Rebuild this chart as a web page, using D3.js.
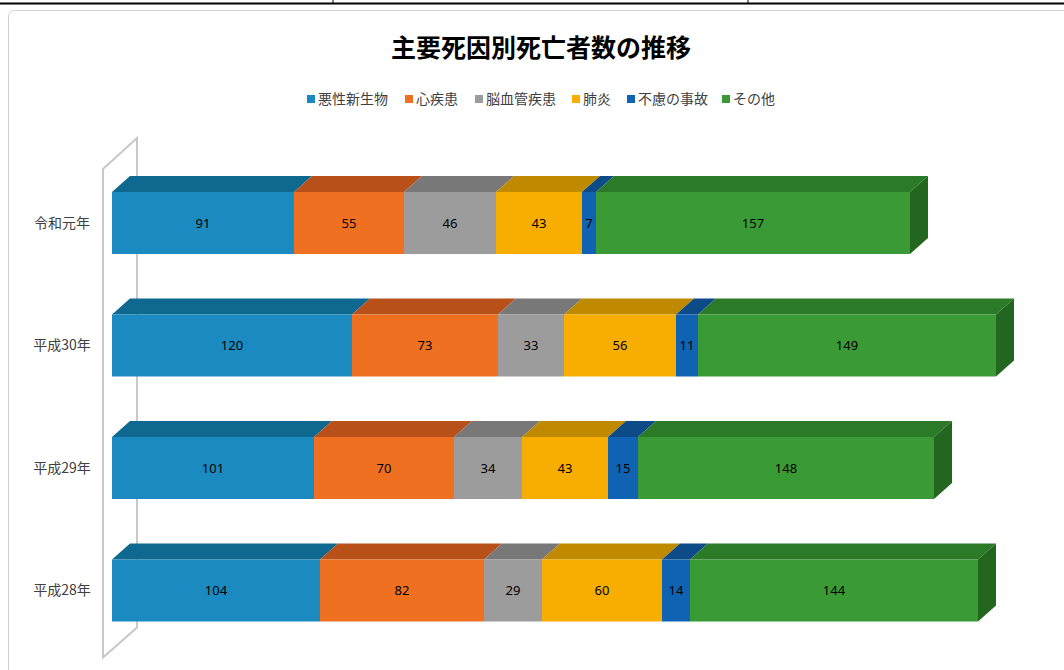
<!DOCTYPE html>
<meta charset="utf-8">
<style>
    body { margin: 0; background: #fff; }
    svg { font-family: "Noto Sans CJK JP", "Noto Sans", sans-serif; }
    .cat { font-size: 14px; fill: #404040; }
    .val { font-size: 13px; fill: #000; font-family: "Liberation Sans Narrow", "Noto Sans", sans-serif; }
    .leg text { font-size: 14px; fill: #404040; }
</style>
<svg width="1064" height="670"></svg>
<script src="https://d3js.org/d3.v7.min.js"></script>
<script>

    var years = ["令和元年", "平成30年", "平成29年", "平成28年"];
    var causes = ["悪性新生物", "心疾患", "脳血管疾患", "肺炎", "不慮の事故", "その他"];

    var akusei  = [91, 120, 101, 104];
    var shin    = [55, 73, 70, 82];
    var nou     = [46, 33, 34, 29];
    var haien   = [43, 56, 43, 60];
    var furyo   = [7, 11, 15, 14];
    var sonota  = [157, 149, 148, 144];

    var front = ["#1a8ac0", "#f07022", "#9c9c9c", "#f7ae00", "#0f63b2", "#3a9a36"];
    var top_  = ["#0e6890", "#b8501a", "#787878", "#c08a00", "#0c4a88", "#2b7a28"];
    var side  = "#23661f";

    var svg = d3.select("svg");

    // page bits
    svg.append("line").attr("x1", 0).attr("x2", 1064).attr("y1", 3.5).attr("y2", 3.5)
        .attr("stroke", "#000").attr("stroke-width", 2);
    [333, 748].forEach(function (x) {
        svg.append("line").attr("x1", x).attr("x2", x).attr("y1", 0).attr("y2", 4)
            .attr("stroke", "#000").attr("stroke-width", 1);
    });
    svg.append("rect").attr("x", 8.5).attr("y", 10.5).attr("width", 1100).attr("height", 700)
        .attr("rx", 6).attr("fill", "#fff").attr("stroke", "#d0d0d0");

    svg.append("text").attr("x", 541).attr("y", 57).attr("text-anchor", "middle")
        .attr("font-size", 25).attr("font-weight", "bold").attr("fill", "#000")
        .text("主要死因別死亡者数の推移");

    // legend
    var legX = [307, 405, 475, 572, 627, 722];
    var leg = svg.append("g").attr("class", "leg");
    causes.forEach(function (c, i) {
        leg.append("rect").attr("x", legX[i]).attr("y", 95).attr("width", 8).attr("height", 8).attr("fill", front[i]);
        leg.append("text").attr("x", legX[i] + 11).attr("y", 99).attr("dy", "0.35em").text(c);
    });

    var series = [akusei, shin, nou, haien, furyo, sonota];
    var rows = years.map(function (y, j) {
        var o = { year: y };
        causes.forEach(function (c, i) { o[c] = series[i][j]; });
        return o;
    });
    var stacked = d3.stack().keys(causes)(rows);

    var x = d3.scaleLinear().domain([0, 450]).range([112, 1012]);
    var y = d3.scaleBand().domain(years).range([192, 621.5]).paddingInner(0.494).paddingOuter(0);
    var h = y.bandwidth();
    var dx = 18, dy = 16;

    // back wall
    var wTop = y.range()[0] - 23, wBot = y.range()[1] + 36;
    svg.append("path")
        .attr("d", "M103," + wBot + "L103," + wTop + "L137," + (wTop - 31) + "L137," + (wBot - 30) + "Z")
        .attr("fill", "none").attr("stroke", "#c8c8c8").attr("stroke-width", 2);

    var g = svg.append("g");
    years.forEach(function (yr, j) {
        var yy = y(yr);
        stacked.forEach(function (s, i) {
            var x0 = x(s[j][0]), x1 = x(s[j][1]);
            g.append("path")
                .attr("d", "M" + x0 + "," + yy + "L" + (x0 + dx) + "," + (yy - dy) + "L" + (x1 + dx) + "," + (yy - dy) + "L" + x1 + "," + yy + "Z")
                .attr("fill", top_[i]);
        });
        stacked.forEach(function (s, i) {
            var x0 = x(s[j][0]), x1 = x(s[j][1]);
            g.append("rect").attr("x", x0).attr("y", yy).attr("width", x1 - x0).attr("height", h)
                .attr("fill", front[i]);
            g.append("text").attr("class", "val").attr("x", (x0 + x1) / 2).attr("y", yy + h / 2)
                .attr("dy", "0.35em").attr("text-anchor", "middle").text(s[j].data[causes[i]]);
        });
        var last = stacked[stacked.length - 1][j];
        var xe = x(last[1]);
        g.append("path")
            .attr("d", "M" + xe + "," + yy + "L" + (xe + dx) + "," + (yy - dy) + "L" + (xe + dx) + "," + (yy + h - dy) + "L" + xe + "," + (yy + h) + "Z")
            .attr("fill", side);

        svg.append("text").attr("class", "cat").attr("x", 62).attr("y", yy + h / 2)
            .attr("dy", "0.35em").attr("text-anchor", "middle").text(yr);
    });

</script>
